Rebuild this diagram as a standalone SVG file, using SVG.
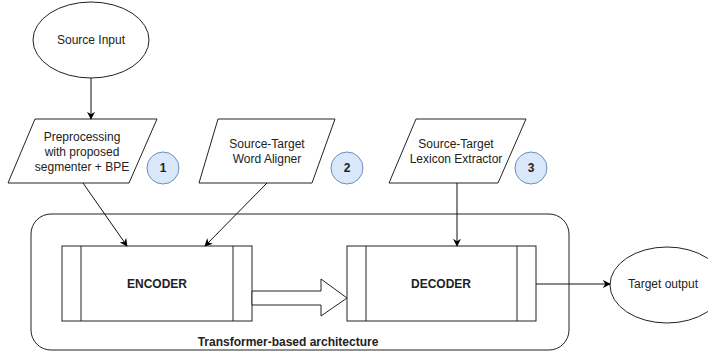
<svg xmlns="http://www.w3.org/2000/svg" width="708" height="353" viewBox="0 0 708 353">
<defs>
<marker id="arr" viewBox="0 0 10 10" refX="9" refY="5" markerWidth="8" markerHeight="8" markerUnits="userSpaceOnUse" orient="auto">
<path d="M0,0 L10,5 L0,10 L3,5 Z" fill="#000"/>
</marker>
<style>
.shape{fill:#fff;stroke:#222;stroke-width:1}
.t{font-family:"Liberation Sans",Arial,sans-serif;font-size:12px;fill:#222;text-anchor:middle}
.b{font-weight:bold}
.num{fill:#dae8fc;stroke:#6c8ebf;stroke-width:1}
.edge{fill:none;stroke:#111;stroke-width:1;marker-end:url(#arr)}
</style>
</defs>
<rect width="708" height="353" fill="#fff"/>

<g id="container">
<rect class="shape" x="31" y="214" width="538" height="136" rx="20" ry="20"/>
<text class="t b" x="288" y="346">Transformer-based architecture</text>
</g>

<g id="source-input">
<ellipse class="shape" cx="91" cy="40" rx="58" ry="38"/>
<text class="t" x="91" y="44">Source Input</text>
</g>

<g id="preprocessing">
<polygon class="shape" points="35,119 157,119 129,183 8,183"/>
<text class="t" x="82" y="141">Preprocessing</text>
<text class="t" x="82" y="156">with proposed</text>
<text class="t" x="82" y="171">segmenter + BPE</text>
</g>
<g id="badge1">
<circle class="num" cx="163" cy="168" r="16"/>
<text class="t b" x="163" y="172">1</text>
</g>

<g id="word-aligner">
<polygon class="shape" points="218,119 335,119 312,183 199,183"/>
<text class="t" x="267" y="148">Source-Target</text>
<text class="t" x="267" y="163">Word Aligner</text>
</g>
<g id="badge2">
<circle class="num" cx="347" cy="168" r="16"/>
<text class="t b" x="347" y="172">2</text>
</g>

<g id="lexicon-extractor">
<polygon class="shape" points="416,119 526,119 498,183 389,183"/>
<text class="t" x="456" y="148">Source-Target</text>
<text class="t" x="456" y="163">Lexicon Extractor</text>
</g>
<g id="badge3">
<circle class="num" cx="531" cy="168" r="16"/>
<text class="t b" x="531" y="172">3</text>
</g>

<g id="encoder">
<rect class="shape" x="62" y="246" width="190" height="75"/>
<line x1="81" y1="246" x2="81" y2="321" stroke="#222"/>
<line x1="233" y1="246" x2="233" y2="321" stroke="#222"/>
<text class="t b" x="157" y="288">ENCODER</text>
</g>

<g id="decoder">
<rect class="shape" x="347" y="246" width="189" height="75"/>
<line x1="366" y1="246" x2="366" y2="321" stroke="#222"/>
<line x1="517" y1="246" x2="517" y2="321" stroke="#222"/>
<text class="t b" x="441" y="288">DECODER</text>
</g>

<g id="target-output">
<ellipse class="shape" cx="667" cy="285" rx="57" ry="38"/>
<text class="t" x="663" y="288">Target output</text>
</g>

<g id="connectors">
<line class="edge" x1="91" y1="78" x2="91" y2="119"/>
<line class="edge" x1="83" y1="183" x2="127" y2="246"/>
<line class="edge" x1="267" y1="183" x2="205" y2="246"/>
<line class="edge" x1="457" y1="183" x2="457" y2="246"/>
<line class="edge" x1="536" y1="284" x2="610" y2="284"/>
<polygon class="shape" points="252,291 321,291 321,279 347,298 321,316 321,305 252,305"/>
</g>
</svg>
